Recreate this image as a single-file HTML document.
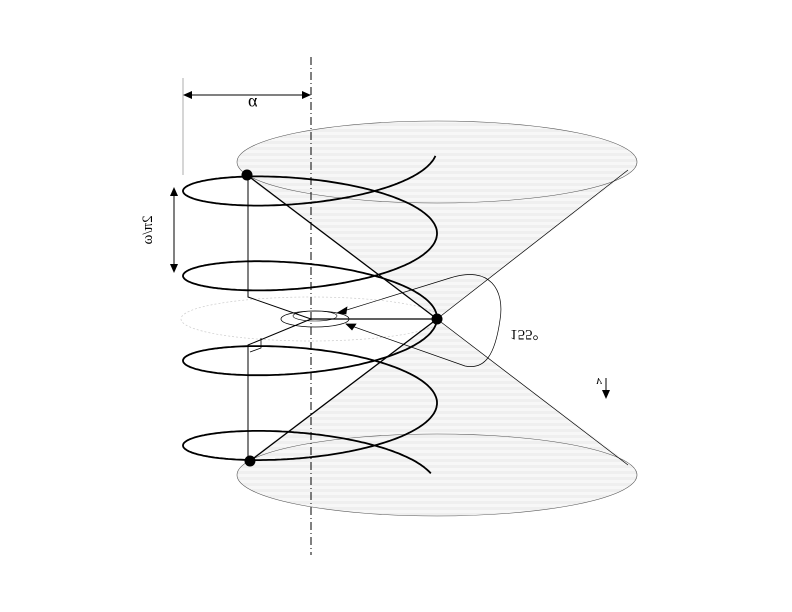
<!DOCTYPE html>
<html><head><meta charset="utf-8"><style>
html,body{margin:0;padding:0;background:#fff;}
svg{display:block;font-family:"Liberation Serif",serif;}
</style></head><body>
<svg id="fig" width="792" height="612" viewBox="0 0 792 612">
<defs>
<pattern id="stripes" width="10" height="6" patternUnits="userSpaceOnUse">
<rect width="10" height="6" fill="#f7f7f7"/><rect y="3" width="10" height="3" fill="#efefef"/>
</pattern>
</defs>
<g>
<ellipse cx="437" cy="162" rx="200" ry="41" fill="url(#stripes)" stroke="none"/>
<ellipse cx="437" cy="475" rx="200" ry="41" fill="url(#stripes)" stroke="none"/>
<polygon points="437,319 628,172 560,192 437,203 330,197 247,177" fill="url(#stripes)"/>
<polygon points="437,319 628,463 560,443 437,436 330,442 250,459" fill="url(#stripes)"/>
<ellipse cx="437" cy="162" rx="200" ry="41" fill="none" stroke="#555" stroke-width="0.6"/>
<ellipse cx="437" cy="475" rx="200" ry="41" fill="none" stroke="#555" stroke-width="0.6"/>
<line x1="437" y1="319" x2="628" y2="170" stroke="#000" stroke-width="0.7"/>
<line x1="437" y1="319" x2="628" y2="465" stroke="#000" stroke-width="0.7"/>
</g>
<ellipse cx="311" cy="319" rx="130" ry="22" fill="none" stroke="#ccc" stroke-width="0.7" stroke-dasharray="2,2"/>
<line x1="311" y1="57" x2="311" y2="555" stroke="#000" stroke-width="1" stroke-dasharray="8,3,1,3"/>
<path id="helix" fill="none" stroke="#000" stroke-width="1.8"/>
<g stroke="#000" fill="none">
<line x1="247" y1="175" x2="437" y2="319" stroke-width="1.3"/>
<line x1="250" y1="461" x2="437" y2="319" stroke-width="1.3"/>
<line x1="311" y1="319" x2="437" y2="319" stroke-width="1.3"/>
<polyline points="248,175 248,297 311,319" stroke-width="1"/>
<polyline points="248,461 248,345 311,319" stroke-width="1"/>
<polyline points="250,352 261,348 261,338" stroke-width="0.8"/>
<ellipse cx="315" cy="319" rx="34" ry="8" stroke-width="0.8"/>
<ellipse cx="315" cy="316" rx="22" ry="5" stroke-width="0.6"/>
</g>
<g stroke="#000" fill="none" stroke-width="0.7">
<path d="M337,313 L450,278 C490,265 505,290 500,320 C495,355 485,370 465,366 L346,324"/>
<polygon points="337,313 347,307 346,314" fill="#000"/>
<polygon points="346,324 356,324 352,330" fill="#000"/>
</g>
<text x="510" y="-330" font-size="15" transform="scale(1,-1)">155°</text>
<g fill="#000">
<circle cx="247" cy="175" r="5.5"/>
<circle cx="437" cy="319" r="5.5"/>
<circle cx="250" cy="461" r="5.5"/>
</g>
<g stroke="#000">
<line x1="183" y1="78" x2="183" y2="175" stroke="#999" stroke-width="0.8"/>
<line x1="187" y1="95" x2="307" y2="95" stroke-width="1"/>
<polygon points="183,95 192,91 192,99" fill="#000" stroke="none"/>
<polygon points="311,95 302,91 302,99" fill="#000" stroke="none"/>
</g>
<text x="248" y="-98" font-size="18" transform="scale(1,-1)">α</text>
<g stroke="#000">
<line x1="174" y1="192" x2="174" y2="268" stroke-width="1"/>
<polygon points="174,187 170,196 178,196" fill="#000" stroke="none"/>
<polygon points="174,273 170,264 178,264" fill="#000" stroke="none"/>
</g>
<text x="0" y="0" font-size="15" transform="translate(152,230) rotate(90) scale(1,-1)" text-anchor="middle">2π/ω</text>
<g>
<line x1="606" y1="378" x2="606" y2="392" stroke="#000" stroke-width="1"/>
<polygon points="606,399 602,390 610,390" fill="#000"/>
</g>
<text x="596" y="-378" font-size="13" font-style="italic" transform="scale(1,-1)">v</text>
</svg>
<script>
const helixParams = [310, 127, 191, 13.5, 33];
const helixRange = [-0.95, 6.9];
const [cx, amp, y0, k, ry] = helixParams;
let d = "";
for (let i = 0; i <= 1000; i++) {
  const t = Math.PI * (helixRange[0] + (helixRange[1] - helixRange[0]) * i / 1000);
  const x = cx - amp * Math.cos(t);
  const y = y0 + k * t - ry * Math.sin(t);
  d += (i ? "L" : "M") + x.toFixed(1) + "," + y.toFixed(1);
}
document.getElementById('helix').setAttribute('d', d);
</script>
</body></html>
